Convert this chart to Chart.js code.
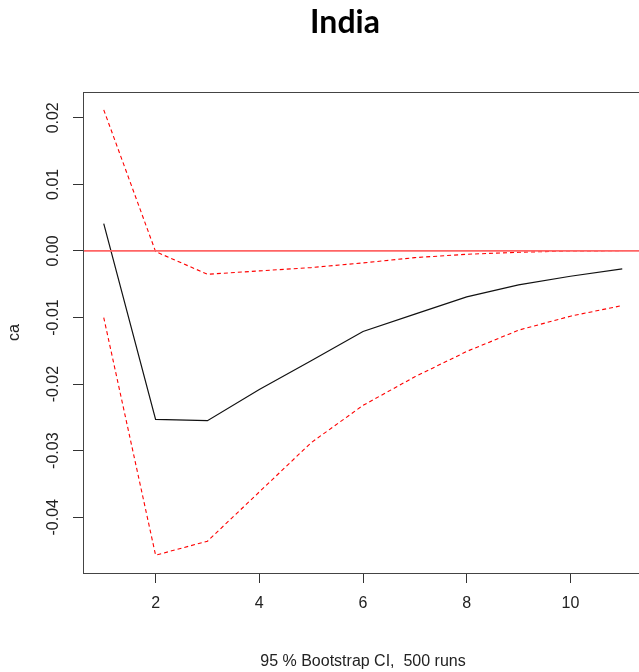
<!DOCTYPE html>
<html><head><meta charset="utf-8">
<script src="https://cdn.jsdelivr.net/npm/chart.js@4.4.1/dist/chart.umd.min.js"></script>
<style>html,body{margin:0;padding:0;overflow:hidden;background:#fff;width:639px;height:672px}
canvas{display:block}</style></head>
<body><canvas id="c" width="645" height="672"></canvas>
<script>
const chartTitle = 'India';
const xAxisTitle = '95 % Bootstrap CI,  500 runs';
const yAxisTitle = 'ca';
const steps = [1, 2, 3, 4, 5, 6, 7, 8, 9, 10, 11];
const irf   = [0.0041, -0.0253, -0.0255, -0.0208, -0.0165, -0.0121, -0.0095, -0.0069, -0.0051, -0.0038, -0.0027];
const lower = [-0.0100, -0.0457, -0.0436, -0.0362, -0.0288, -0.0232, -0.0189, -0.0151, -0.0119, -0.0098, -0.0082];
const upper = [0.0212, -0.0001, -0.0035, -0.0030, -0.0025, -0.0018, -0.0010, -0.0005, -0.0002, 0.0000, 0.00003];
const xTicks = [2, 4, 6, 8, 10];
const xTickLabels = ['2', '4', '6', '8', '10'];
const yTicks = [-0.04, -0.03, -0.02, -0.01, 0, 0.01, 0.02];
const yTickLabels = ['-0.04', '-0.03', '-0.02', '-0.01', '0.00', '0.01', '0.02'];
const refLine = 0;

const FONT = 'Liberation Sans';
const all = irf.concat(lower, upper);
const yMinD = Math.min(...all), yMaxD = Math.max(...all);
const yPad = (yMaxD - yMinD) * 0.04;
const xPad = (steps[steps.length - 1] - steps[0]) * 0.04;
const pts = arr => steps.map((s, i) => ({x: s, y: arr[i]}));

const extras = {
  id: 'extras',
  afterDatasetsDraw(chart) {
    const {ctx, chartArea: a, scales} = chart;
    ctx.save();
    // zero reference line
    const y0 = scales.y.getPixelForValue(refLine);
    ctx.strokeStyle = '#ff6464';
    ctx.lineWidth = 1.8;
    ctx.beginPath(); ctx.moveTo(a.left, y0); ctx.lineTo(a.right, y0); ctx.stroke();
    // box
    ctx.strokeStyle = '#444';
    ctx.lineWidth = 1;
    ctx.strokeRect(Math.round(a.left) + 0.5, Math.round(a.top) + 0.5, Math.round(a.right - a.left), Math.round(a.bottom - a.top));
    ctx.restore();
  },
  afterDraw(chart) {
    const ctx = chart.ctx;
    ctx.save();
    ctx.font = 'bold 32px Lato';
    ctx.fillStyle = '#000';
    ctx.textAlign = 'center';
    ctx.textBaseline = 'alphabetic';
    ctx.fillText(chartTitle, 345, 33);
    ctx.restore();
  }
};

new Chart(document.getElementById('c').getContext('2d'), {
  type: 'line',
  data: {
    datasets: [
      {data: pts(irf), borderColor: '#111', borderWidth: 1.2, pointRadius: 0, tension: 0, fill: false},
      {data: pts(lower), borderColor: '#ff0000', borderWidth: 1.1, borderDash: [4, 3], pointRadius: 0, tension: 0, fill: false},
      {data: pts(upper), borderColor: '#ff0000', borderWidth: 1.1, borderDash: [4, 3], pointRadius: 0, tension: 0, fill: false}
    ]
  },
  options: {
    responsive: false,
    animation: false,
    devicePixelRatio: 1,
    layout: {padding: {top: 92, right: 2, left: 0, bottom: 0}},
    plugins: {legend: {display: false}, tooltip: {enabled: false}, title: {display: false}},
    scales: {
      x: {
        type: 'linear',
        min: steps[0] - xPad,
        max: steps[steps.length - 1] + xPad,
        afterBuildTicks: s => { s.ticks = xTicks.map(v => ({value: v})); },
        afterFit: s => { s.height = 99; },
        grid: {drawOnChartArea: false, tickLength: 10, color: '#333', lineWidth: 1},
        border: {display: false},
        ticks: {font: {family: FONT, size: 16}, color: '#222', padding: 11, maxRotation: 0, autoSkip: false,
                callback: v => xTickLabels[xTicks.indexOf(v)]},
        title: {display: true, text: xAxisTitle, font: {family: FONT, size: 16}, color: '#222', padding: {top: 0, bottom: 1}}
      },
      y: {
        type: 'linear',
        min: yMinD - yPad,
        max: yMaxD + yPad,
        afterBuildTicks: s => { s.ticks = yTicks.map(v => ({value: v})); },
        afterFit: s => { s.width = 83; },
        grid: {drawOnChartArea: false, tickLength: 10, color: '#333', lineWidth: 1},
        border: {display: false},
        ticks: {font: {family: FONT, size: 16}, color: '#222', padding: 1, minRotation: 90, maxRotation: 90,
                crossAlign: 'center', autoSkip: false,
                callback: v => yTickLabels[yTicks.indexOf(v)]},
        title: {display: true, text: yAxisTitle, font: {family: FONT, size: 16}, color: '#222', padding: {top: 5, bottom: 0}}
      }
    }
  },
  plugins: [extras]
});
</script>
</body></html>
